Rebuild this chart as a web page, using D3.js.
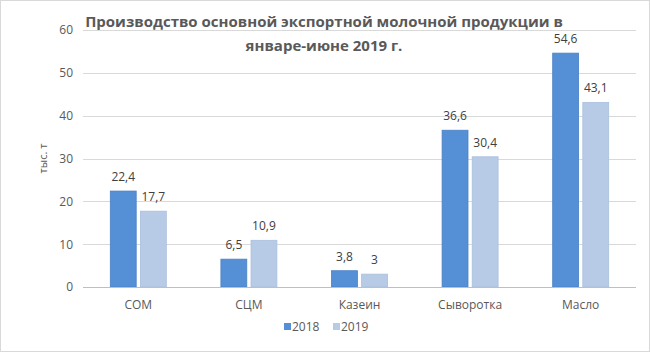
<!DOCTYPE html>
<html lang="ru">
<head>
  <meta charset="UTF-8">
  <title>Производство основной экспортной молочной продукции</title>
  <script src="https://d3js.org/d3.v7.min.js"></script>
  <style>
    body { margin: 0; background: #fff; }
    svg { display: block; font-family: "Open Sans", "Liberation Sans", sans-serif; }
  </style>
</head>
<body>
  <div id="chart"></div>
  <script>
    const categories = ['СОМ', 'СЦМ', 'Казеин', 'Сыворотка', 'Масло']
    const years = ['2018', '2019']
    const values2018 = [22.4, 6.5, 3.8, 36.6, 54.6]
    const values2019 = [17.7, 10.9, 3, 30.4, 43.1]
    const yTicks = [0, 10, 20, 30, 40, 50, 60]
    const titleLines = ['Производство основной экспортной молочной продукции в', 'январе-июне 2019 г.']
    const yLabel = 'тыс. т'

    const width = 650
    const height = 352
    const margin = { top: 30, right: 14, bottom: 65, left: 83 }
    const colors = { '2018': '#5590d6', '2019': '#b7cbe6' }
    const strokes = { '2018': '#4a80c4', '2019': '#aabfdc' }

    const svg = d3.select('#chart').append('svg')
      .attr('width', width)
      .attr('height', height)

    svg.append('rect')
      .attr('x', 0.5).attr('y', 0.5)
      .attr('width', width - 1).attr('height', height - 1)
      .attr('fill', '#fff')
      .attr('stroke', '#d9d9d9')

    const x = d3.scaleBand()
      .domain(categories)
      .range([margin.left, width - margin.right])

    const xInner = d3.scaleBand()
      .domain(years)
      .range([x.bandwidth() / 2 - 28, x.bandwidth() / 2 + 28])
      .paddingInner(0.14)

    const y = d3.scaleLinear()
      .domain([0, 60])
      .range([height - margin.bottom, margin.top])

    // gridlines
    svg.append('g')
      .selectAll('line')
      .data(yTicks)
      .join('line')
      .attr('x1', margin.left)
      .attr('x2', width - margin.right)
      .attr('y1', d => Math.round(y(d)) + 0.5)
      .attr('y2', d => Math.round(y(d)) + 0.5)
      .attr('stroke', '#d9d9d9')

    const yAxis = svg.append('g')
      .attr('transform', `translate(${margin.left - 10},0)`)
      .call(d3.axisLeft(y).tickValues(yTicks).tickSize(0).tickPadding(0))
    yAxis.select('.domain').remove()
    yAxis.selectAll('text')
      .attr('fill', '#595959')
      .style('font-size', '12px')
      .style('font-family', '"Open Sans", sans-serif')

    svg.append('text')
      .attr('transform', `translate(47,${y(30)}) rotate(-90)`)
      .attr('text-anchor', 'middle')
      .attr('fill', '#595959')
      .style('font-size', '11px')
      .text(yLabel)

    const series = years.map(yr => ({
      year: yr,
      values: yr === '2018' ? values2018 : values2019
    }))

    const groups = svg.append('g')
      .selectAll('g')
      .data(series)
      .join('g')

    groups.selectAll('rect')
      .data(s => s.values.map((v, i) => ({ year: s.year, cat: categories[i], v })))
      .join('rect')
      .attr('x', d => x(d.cat) + xInner(d.year))
      .attr('y', d => y(d.v))
      .attr('width', xInner.bandwidth())
      .attr('height', d => y(0) - y(d.v))
      .attr('fill', d => colors[d.year])
      .attr('stroke', d => strokes[d.year])
      .attr('stroke-width', 0.8)

    groups.selectAll('text')
      .data(s => s.values.map((v, i) => ({ year: s.year, cat: categories[i], v })))
      .join('text')
      .attr('x', d => x(d.cat) + xInner(d.year) + xInner.bandwidth() / 2)
      .attr('y', d => y(d.v) - 10)
      .attr('text-anchor', 'middle')
      .attr('fill', '#404040')
      .style('font-size', '12px')
      .text(d => String(d.v).replace('.', ','))

    // x axis
    svg.append('line')
      .attr('x1', margin.left)
      .attr('x2', width - margin.right)
      .attr('y1', Math.round(y(0)) + 0.5)
      .attr('y2', Math.round(y(0)) + 0.5)
      .attr('stroke', '#bfbfbf')

    svg.append('g')
      .selectAll('text')
      .data(categories)
      .join('text')
      .attr('x', d => x(d) + x.bandwidth() / 2)
      .attr('y', y(0) + 22)
      .attr('text-anchor', 'middle')
      .attr('fill', '#595959')
      .style('font-size', '12px')
      .text(d => d)

    // title
    svg.append('g')
      .selectAll('text')
      .data(titleLines)
      .join('text')
      .attr('x', 324)
      .attr('y', (d, i) => 27 + i * 24)
      .attr('text-anchor', 'middle')
      .attr('fill', '#595959')
      .style('font-size', '15px')
      .style('font-weight', 'bold')
      .text(d => d)

    // legend
    const legend = svg.append('g')
      .attr('transform', 'translate(284,327)')
    const li = legend.selectAll('g')
      .data(years)
      .join('g')
      .attr('transform', (d, i) => `translate(${i * 49},0)`)
    li.append('rect')
      .attr('x', 0).attr('y', -4)
      .attr('width', 7).attr('height', 7)
      .attr('fill', d => colors[d])
    li.append('text')
      .attr('x', 8).attr('y', 4)
      .attr('fill', '#595959')
      .style('font-size', '12px')
      .text(d => d)
  </script>
</body>
</html>
